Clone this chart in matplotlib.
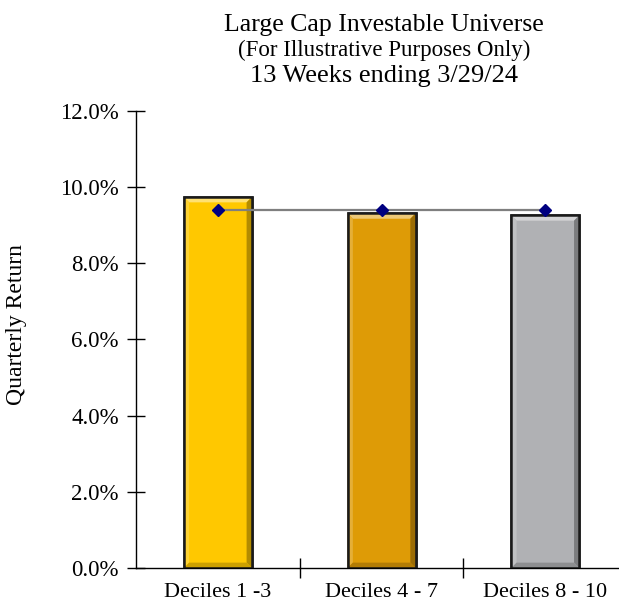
import matplotlib.pyplot as plt
import matplotlib.colors as mcolors
from matplotlib.patches import Polygon
from matplotlib.ticker import FuncFormatter

categories = ["Deciles 1 -3", "Deciles 4 - 7", "Deciles 8 - 10"]
returns = [9.74, 9.31, 9.26]
universe = [9.39, 9.39, 9.39]
bar_colors = ["#FFC800", "#DE9B06", "#B0B1B4"]

plt.rcParams['font.family'] = ['Liberation Serif', 'DejaVu Serif']

fig = plt.figure(figsize=(6.19, 6.10), dpi=100)
ax = fig.add_axes([0.2197, 0.0689, 0.7803, 0.7492])

x = list(range(len(categories)))
bars = ax.bar(x, returns, width=0.415, color=bar_colors, edgecolor="#1a1a1a",
              linewidth=1.8, zorder=2)

ax.set_xlim(-0.5, 2.45)
ax.set_ylim(0, 12)


def shade(c, f):
    r, g, b = mcolors.to_rgb(c)
    if f > 0:
        return (r + (1 - r) * f, g + (1 - g) * f, b + (1 - b) * f)
    return (r * (1 + f), g * (1 + f), b * (1 + f))


# bevelled look: light top/left edges, dark right/bottom edges
bx = 0.032
by = 0.14
for bar, c in zip(bars, bar_colors):
    x0, w, h = bar.get_x(), bar.get_width(), bar.get_height()
    x1 = x0 + w
    faces = [
        ([(x0, h), (x1, h), (x1 - bx, h - by), (x0 + bx, h - by)], 0.45),
        ([(x0, 0), (x0, h), (x0 + bx, h - by), (x0 + bx, by)], 0.2),
        ([(x1, 0), (x1, h), (x1 - bx, h - by), (x1 - bx, by)], -0.3),
        ([(x0, 0), (x1, 0), (x1 - bx, by), (x0 + bx, by)], -0.2),
    ]
    for pts, f in faces:
        ax.add_patch(Polygon(pts, closed=True, facecolor=shade(c, f),
                             edgecolor="none", zorder=2.5))
    ax.add_patch(plt.Rectangle((x0, 0), w, h, fill=False, edgecolor="#1a1a1a",
                               linewidth=1.8, zorder=3))

ax.plot(x, universe, color="#7f7f7f", linewidth=1.6, zorder=4)
ax.plot(x, universe, linestyle="none", marker="D", markersize=6,
        color="#000080", zorder=5)

ax.set_yticks([0, 2, 4, 6, 8, 10, 12])
ax.yaxis.set_major_formatter(FuncFormatter(lambda v, p: f"{v:.1f}%"))
ax.set_xticks(x)
ax.set_xticklabels(categories, fontsize=16)
ax.set_xticks([0.5, 1.5], minor=True)
ax.tick_params(axis="x", which="major", length=0, pad=11)
ax.tick_params(axis="x", which="minor", direction="inout", length=14, width=1)
ax.tick_params(axis="y", direction="inout", length=13, width=1, labelsize=16.5, pad=6)

for s in ["top", "right"]:
    ax.spines[s].set_visible(False)
ax.spines["left"].set_linewidth(1)
ax.spines["bottom"].set_linewidth(1)

ax.set_ylabel("Quarterly Return", fontsize=17)
ax.yaxis.set_label_coords(-0.226, 0.532)

fig.text(0.62, 0.950, "Large Cap Investable Universe", ha="center", va="baseline", fontsize=18.5)
fig.text(0.62, 0.909, "(For Illustrative Purposes Only)", ha="center", va="baseline", fontsize=16.5)
fig.text(0.62, 0.8648, "13 Weeks ending 3/29/24", ha="center", va="baseline", fontsize=19)

fig.savefig("out.png", dpi=100)
